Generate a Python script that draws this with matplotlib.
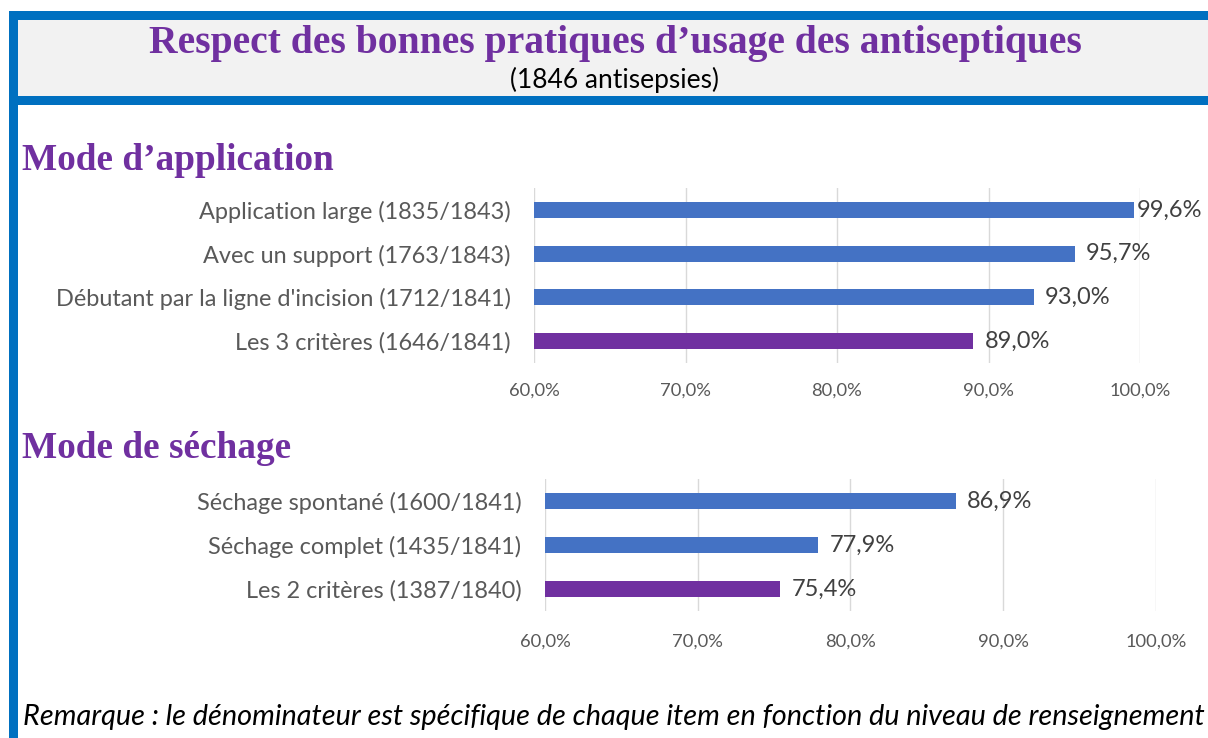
import matplotlib.pyplot as plt
from matplotlib.patches import Rectangle

# data
app_labels = ["Application large (1835/1843)", "Avec un support (1763/1843)",
              "Débutant par la ligne d'incision (1712/1841)", "Les 3 critères (1646/1841)"]
app_values = [99.6, 95.7, 93.0, 89.0]
sech_labels = ["Séchage spontané (1600/1841)", "Séchage complet (1435/1841)",
               "Les 2 critères (1387/1840)"]
sech_values = [86.9, 77.9, 75.4]
x_ticks = [60, 70, 80, 90, 100]

BLUE = "#4472C4"
PURPLE = "#7030A0"
BORDER = "#0070C0"
GREY_TXT = "#595959"
W, H = 1208, 738

fig = plt.figure(figsize=(W / 100, H / 100), dpi=100)

def px(x0, y0, x1, y1):
    # pixel box -> figure fraction [left, bottom, width, height]
    return [x0 / W, 1 - y1 / H, (x1 - x0) / W, (y1 - y0) / H]

# frame / header
bg = fig.add_axes([0, 0, 1, 1])
bg.set_xlim(0, W)
bg.set_ylim(H, 0)
bg.axis("off")
bg.add_patch(Rectangle((18, 20), W, 76, color="#F2F2F2", lw=0))
bg.add_patch(Rectangle((9, 11), W, 9, color=BORDER, lw=0))
bg.add_patch(Rectangle((9, 96), W, 9, color=BORDER, lw=0))
bg.add_patch(Rectangle((9, 11), 9, H, color=BORDER, lw=0))

bg.text(615, 44, "Respect des bonnes pratiques d\u2019usage des antiseptiques",
        ha="center", va="center", fontsize=28.5, fontweight="bold",
        family="Liberation Serif", color=PURPLE)
bg.text(614, 80, "(1846 antisepsies)", ha="center", va="center",
        fontsize=19, family="Lato", color="black")
bg.text(22, 161, "Mode d\u2019application", ha="left", va="center",
        fontsize=26.8, fontweight="bold", family="Liberation Serif", color=PURPLE)
bg.text(22, 449, "Mode de séchage", ha="left", va="center",
        fontsize=26.8, fontweight="bold", family="Liberation Serif", color=PURPLE)
bg.text(1205, 717, "Remarque : le dénominateur est spécifique de chaque item en fonction du niveau de renseignement",
        ha="right", va="center", fontsize=20.8, style="italic", family="Lato", color="black")


def draw(box, labels, values, xpad):
    ax = fig.add_axes(px(*box))
    colors = [BLUE] * (len(values) - 1) + [PURPLE]
    y = range(len(values))
    ax.barh(y, [v - 60 for v in values], left=60, height=0.37, color=colors, zorder=2)
    for yi, v in zip(y, values):
        off = 2 if v > 99 else 8
        ax.annotate(f"{v:.1f}%".replace(".", ","), (v, yi), xytext=(off, 0),
                    textcoords="offset points", va="center", ha="left",
                    fontsize=17, family="Lato", color="#404040")
    ax.set_xlim(60, 100)
    ax.set_ylim(len(values) - 0.5, -0.5)
    ax.set_xticks(x_ticks)
    ax.set_xticklabels([f"{t:.1f}%".replace(".", ",") for t in x_ticks],
                       fontsize=13.2, family="Lato", color=GREY_TXT)
    ax.set_yticks(list(y))
    ax.set_yticklabels(labels, fontsize=16.9, family="Lato", color=GREY_TXT)
    ax.tick_params(length=0, axis="x", pad=xpad)
    ax.tick_params(length=0, axis="y", pad=17)
    ax.grid(axis="x", color="#D9D9D9", lw=1, zorder=0)
    for s in ax.spines.values():
        s.set_visible(False)
    ax.set_facecolor("none")


draw((534, 188, 1140, 363), app_labels, app_values, 14)
draw((545, 479, 1156, 611), sech_labels, sech_values, 16)

fig.savefig("out.png", dpi=100)
